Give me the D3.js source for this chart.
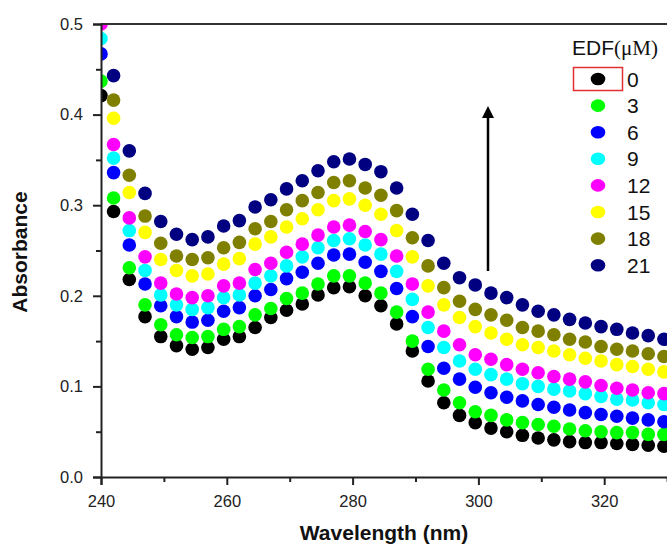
<!DOCTYPE html>
<html>
<head>
<meta charset="utf-8">
<script src="https://cdn.jsdelivr.net/npm/d3@7"></script>
<style>
  body { margin: 0; background: #fff; }
  svg { display: block; font-family: Arial, "Liberation Sans", sans-serif; }
  .eje path, .eje line { stroke: #222; stroke-width: 2px; }
  .eje text { fill: #222; font-size: 16.5px; }
</style>
</head>
<body>
<div id="graf"></div>
<script>
// Datos
longitudes = [240,242,244.5,247,249.5,252,254.5,257,259.5,262,264.5,267,269.5,272,274.5,277,279.5,282,284.5,287,289.5,292,294.5,297,299.5,302,304.5,307,309.5,312,314.5,317,319.5,322,324.5,327,329.5]
concentraciones = ['0', '3', '6', '9', '12', '15', '18', '21']
colores = ['#000000', '#00ff00', '#0000ff', '#00ffff', '#ff00ff', '#ffff00', '#808000', '#000080']

edf0  = [0.421,0.293,0.218,0.177,0.155,0.145,0.141,0.143,0.152,0.155,0.165,0.176,0.184,0.191,0.201,0.209,0.210,0.200,0.189,0.169,0.139,0.106,0.082,0.068,0.060,0.054,0.050,0.046,0.043,0.041,0.039,0.038,0.038,0.037,0.036,0.035,0.034]
edf3  = [0.437,0.308,0.231,0.190,0.168,0.157,0.154,0.155,0.163,0.166,0.179,0.186,0.197,0.203,0.213,0.222,0.222,0.214,0.203,0.182,0.150,0.119,0.096,0.082,0.072,0.068,0.063,0.060,0.058,0.056,0.053,0.051,0.050,0.049,0.049,0.047,0.047]
edf6  = [0.467,0.336,0.256,0.213,0.189,0.177,0.171,0.173,0.183,0.187,0.200,0.207,0.219,0.226,0.236,0.245,0.246,0.237,0.227,0.208,0.177,0.144,0.120,0.108,0.099,0.093,0.088,0.084,0.080,0.077,0.074,0.071,0.069,0.067,0.065,0.063,0.061]
edf9  = [0.484,0.352,0.272,0.228,0.201,0.190,0.185,0.187,0.198,0.201,0.214,0.222,0.233,0.243,0.253,0.261,0.263,0.256,0.246,0.227,0.196,0.165,0.143,0.128,0.119,0.113,0.108,0.103,0.100,0.097,0.095,0.092,0.089,0.086,0.085,0.082,0.080]
edf12 = [0.500,0.367,0.286,0.243,0.214,0.202,0.198,0.200,0.211,0.214,0.229,0.236,0.248,0.257,0.267,0.276,0.278,0.271,0.262,0.244,0.213,0.182,0.161,0.146,0.135,0.130,0.124,0.119,0.115,0.111,0.108,0.105,0.101,0.098,0.096,0.093,0.092]
edf15 = [0.515,0.396,0.314,0.270,0.240,0.228,0.222,0.224,0.235,0.241,0.257,0.265,0.276,0.285,0.295,0.305,0.307,0.300,0.290,0.272,0.243,0.211,0.190,0.176,0.166,0.159,0.152,0.146,0.143,0.139,0.135,0.131,0.128,0.124,0.122,0.119,0.116]
edf18 = [0.530,0.416,0.333,0.288,0.258,0.244,0.240,0.242,0.253,0.259,0.274,0.282,0.295,0.305,0.314,0.325,0.327,0.319,0.311,0.294,0.264,0.233,0.209,0.194,0.185,0.179,0.173,0.165,0.161,0.157,0.152,0.149,0.144,0.141,0.139,0.136,0.133]
edf21 = [0.545,0.443,0.360,0.313,0.282,0.268,0.262,0.265,0.277,0.283,0.298,0.306,0.318,0.327,0.338,0.348,0.351,0.345,0.337,0.319,0.290,0.261,0.236,0.220,0.212,0.203,0.198,0.190,0.183,0.179,0.174,0.170,0.166,0.163,0.159,0.156,0.152]

ticksX = [240, 260, 280, 300, 320]
ticksXmenor = [250, 270, 290, 310, 330]
ticksY = [0, 0.1, 0.2, 0.3, 0.4, 0.5]
ticksYmenor = [0.05, 0.15, 0.25, 0.35, 0.45]

series = [edf0, edf3, edf6, edf9, edf12, edf15, edf18, edf21]

ancho_total = 667
alto_total = 546

svg = d3.select('#graf').append('svg')
        .attr('width', ancho_total)
        .attr('height', alto_total)

// Escalas
x = d3.scaleLinear().domain([240, 340]).range([101, 730])
y = d3.scaleLinear().domain([0, 0.5]).range([477, 24])

// Recorte del area de la grafica
svg.append('clipPath').attr('id', 'area')
   .append('rect')
   .attr('x', x(240)).attr('y', y(0.5))
   .attr('width', x(340) - x(240)).attr('height', y(0) - y(0.5))

// Puntos de cada serie
gPuntos = svg.append('g').attr('clip-path', 'url(#area)')
series.forEach((s, k) => {
  gPuntos.append('g')
    .selectAll('circle')
    .data(s)
    .enter()
    .append('circle')
    .attr('cx', (d, i) => x(longitudes[i]))
    .attr('cy', d => y(d))
    .attr('r', 6.8)
    .attr('fill', colores[k])
})

// Marco superior
svg.append('line')
   .attr('x1', x(240)).attr('x2', x(340))
   .attr('y1', y(0.5)).attr('y2', y(0.5))
   .attr('stroke', '#333').attr('stroke-width', 2)

// Ejes
svg.append('g').attr('class', 'eje')
   .attr('transform', `translate(0, ${y(0)})`)
   .call(d3.axisBottom(x).tickValues(ticksX).tickSize(8).tickPadding(10).tickFormat(d3.format('d')))
svg.append('g').attr('class', 'eje')
   .attr('transform', `translate(0, ${y(0)})`)
   .call(d3.axisBottom(x).tickValues(ticksXmenor).tickSize(5).tickFormat(''))
   .select('.domain').remove()

svg.append('g').attr('class', 'eje')
   .attr('transform', `translate(${x(240)}, 0)`)
   .call(d3.axisLeft(y).tickValues(ticksY).tickSize(8).tickPadding(10).tickFormat(d3.format('.1f')))
svg.append('g').attr('class', 'eje')
   .attr('transform', `translate(${x(240)}, 0)`)
   .call(d3.axisLeft(y).tickValues(ticksYmenor).tickSize(5).tickFormat(''))
   .select('.domain').remove()

// Titulos de ejes
svg.append('text')
   .attr('x', 384).attr('y', 540)
   .attr('text-anchor', 'middle')
   .style('font-size', '21px').style('font-weight', 'bold').style('fill', '#111')
   .text('Wavelength (nm)')

svg.append('text')
   .attr('transform', 'translate(27, 252) rotate(-90)')
   .attr('text-anchor', 'middle')
   .style('font-size', '21px').style('font-weight', 'bold').style('fill', '#111')
   .text('Absorbance')

// Flecha
svg.append('defs').append('marker')
   .attr('id', 'punta')
   .attr('viewBox', '0 0 10 10')
   .attr('refX', 5).attr('refY', 5)
   .attr('markerWidth', 12).attr('markerHeight', 12)
   .attr('markerUnits', 'userSpaceOnUse')
   .attr('orient', 'auto')
   .append('path').attr('d', 'M0,0 L10,5 L0,10 Z').attr('fill', '#000')
svg.append('line')
   .attr('x1', 488).attr('x2', 488)
   .attr('y1', 271).attr('y2', 112)
   .attr('stroke', '#000').attr('stroke-width', 2.5)
   .attr('marker-end', 'url(#punta)')

// Leyenda
leyenda = svg.append('g')
titulo = leyenda.append('text')
   .attr('x', 572).attr('y', 55)
   .style('font-size', '21px').style('fill', '#111')
titulo.append('tspan').text('EDF')
titulo.append('tspan').style('font-family', '"Liberation Serif", "Times New Roman", serif').text('(μM)')

concentraciones.forEach((c, k) => {
  yy = 79 + k * 26.6
  leyenda.append('ellipse')
    .attr('cx', 598).attr('cy', yy)
    .attr('rx', 7.3).attr('ry', 6.3)
    .attr('fill', colores[k])
  leyenda.append('text')
    .attr('x', 627).attr('y', yy + 7.5)
    .style('font-size', '21px').style('fill', '#111')
    .text(c)
})
leyenda.append('rect')
   .attr('x', 573.5).attr('y', 67.5)
   .attr('width', 49).attr('height', 23)
   .attr('fill', 'none').attr('stroke', '#e03030').attr('stroke-width', 1.5)
</script>
</body>
</html>
